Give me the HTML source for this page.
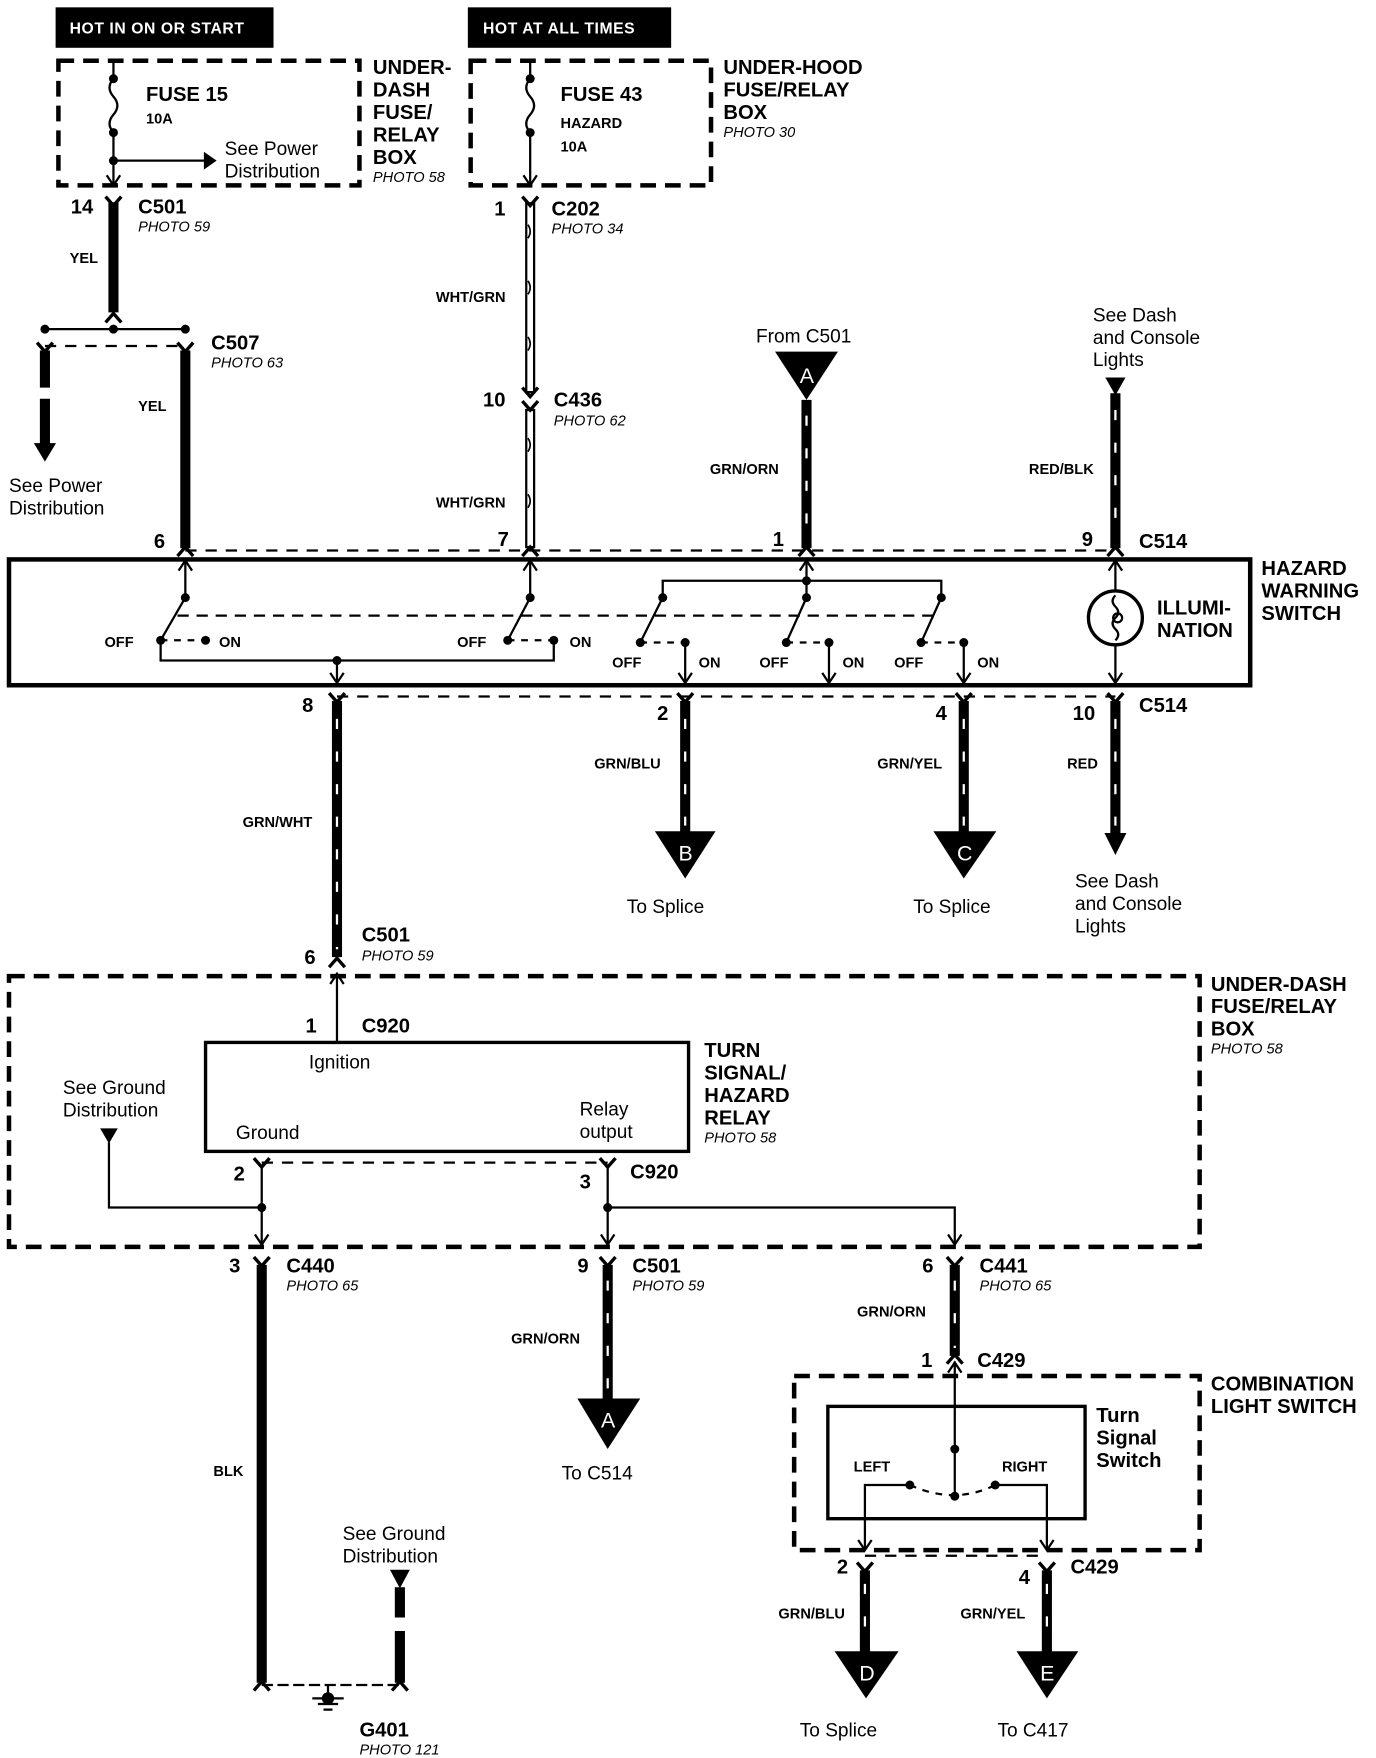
<!DOCTYPE html>
<html><head><meta charset="utf-8"><style>
html,body{margin:0;padding:0;background:#fff}
svg{display:block}
text{font-family:"Liberation Sans",Arial,sans-serif;fill:#000}
.b{font-weight:bold}
.L{font-size:18px;font-weight:bold}
.s{font-size:13px;font-weight:bold}
.p{font-size:13px;font-style:italic}
.n{font-size:17px}
.w{font-size:13px;font-weight:bold}
</style></head><body>
<svg width="1376" height="1758" viewBox="0 0 1225 1565" xmlns="http://www.w3.org/2000/svg">
<defs>
<path id="fd" d="M-7,-7 L0,1 L7,-7" fill="none" stroke="#000" stroke-width="3"/>
<path id="fu" d="M-7,7 L0,-1 L7,7" fill="none" stroke="#000" stroke-width="3"/>
<path id="ad" d="M-6,-9 L0,0 L6,-9" fill="none" stroke="#000" stroke-width="2"/>
<path id="au" d="M-6,9 L0,0 L6,9" fill="none" stroke="#000" stroke-width="2"/>
</defs>
<g fill="none" stroke="#000">
<rect x="50" y="7" width="193" height="35" fill="#000"/>
<rect x="417" y="7" width="180" height="35" fill="#000"/>
<rect x="52" y="54" width="268" height="111" stroke-width="4" stroke-dasharray="14 8"/>
<rect x="419" y="54" width="214" height="111" stroke-width="4" stroke-dasharray="14 8"/>
<path d="M101,54 V70 M101,118 V165 M101,143 H182" stroke-width="2"/>
<path d="M101,70 q-7,8 0,16 q7,8 0,16 q-7,8 0,16" stroke-width="2"/>
<path d="M182,136 L192,143 L182,150Z" fill="#000" stroke-width="1"/>
<path d="M472,54 V70 M472,118 V165" stroke-width="2"/>
<path d="M472,70 q-7,8 0,16 q7,8 0,16 q-7,8 0,16" stroke-width="2"/>
<path d="M101,180 V278" stroke-width="9"/>
<path d="M40,293 H165" stroke-width="2"/>
<path d="M40,308 H165" stroke-width="2" stroke-dasharray="10 8"/>
<path d="M40,312 V345 M40,355 V397" stroke-width="9"/>
<path d="M31,395 L40,410 L49,395Z" fill="#000" stroke-width="1"/>
<path d="M165,312 V488" stroke-width="9"/>
<path d="M472,180 V350 M472,364 V488" stroke-width="9"/>
<path d="M472,182 V348 M472,366 V486" stroke="#fff" stroke-width="5"/>
<path d="M470,200 q4,6 0,12 M470,250 q4,6 0,12 M470,300 q4,6 0,12 M470,390 q4,6 0,12 M470,440 q4,6 0,12" stroke-width="1.5"/>
<path d="M718,356 V488" stroke-width="9"/>
<path d="M993,350 V488" stroke-width="9"/>
<path d="M165,490 H993" stroke-width="2" stroke-dasharray="10 8"/>
<rect x="8" y="498" width="1105" height="112" stroke-width="4"/>
<path d="M165,498 V532 L143,570 M143,570 V588 H493 V570 M300,588 V608" stroke-width="2"/>
<path d="M472,498 V532 L452,570" stroke-width="2"/>
<path d="M143,570 H183 M452,570 H493" stroke-width="2" stroke-dasharray="6 6"/>
<path d="M158,548 H838" stroke-width="2" stroke-dasharray="10 7"/>
<path d="M590,530 V517 H838 V530 M718,498 V532" stroke-width="2"/>
<path d="M590,532 L570,572 M718,532 L700,572 M838,532 L820,572" stroke-width="2"/>
<path d="M570,572 H610 M700,572 H738 M820,572 H858" stroke-width="2" stroke-dasharray="6 6"/>
<path d="M610,572 V608 M738,572 V608 M858,572 V608" stroke-width="2"/>
<circle cx="993" cy="550" r="24" stroke-width="3"/>
<path d="M993,498 V527 M993,573 V608 M993,530 q-5,5 0,10 q5,5 0,10 q-5,5 0,10 q5,5 0,10" stroke-width="2"/>
<circle cx="995" cy="550" r="4" stroke-width="2"/>
<path d="M300,620 H993" stroke-width="2" stroke-dasharray="10 8"/>
<path d="M300,624 V852" stroke-width="9"/>
<path d="M610,624 V742 M858,624 V742 M993,624 V745" stroke-width="9"/>
<path d="M984,742 L993,760 L1002,742Z" fill="#000" stroke-width="1"/>
<rect x="8" y="869" width="1060" height="241" stroke-width="4" stroke-dasharray="14 8"/>
<path d="M300,866 V928" stroke-width="2"/>
<rect x="183" y="928" width="430" height="97" stroke-width="3"/>
<path d="M97,1017 V1075 H233 M233,1037 V1108 M541,1037 V1108 M541,1075 H850 V1108" stroke-width="2"/>
<path d="M233,1035 H541" stroke-width="2" stroke-dasharray="10 8"/>
<path d="M90,1005 H104 L97,1017Z" fill="#000" stroke-width="1"/>
<path d="M233,1126 V1498" stroke-width="9"/>
<path d="M541,1126 V1246" stroke-width="9"/>
<path d="M850,1126 V1207" stroke-width="9"/>
<rect x="707" y="1225" width="361" height="155" stroke-width="4" stroke-dasharray="14 8"/>
<rect x="737" y="1252" width="229" height="100" stroke-width="3"/>
<path d="M850,1212 V1332 M770,1380 V1322 H810 M932,1380 V1322 H886" stroke-width="2"/>
<path d="M810,1322 Q850,1340 886,1322" stroke-width="2" stroke-dasharray="6 6"/>
<path d="M770,1385 H932" stroke-width="2" stroke-dasharray="10 8"/>
<path d="M770,1398 V1472 M932,1398 V1472" stroke-width="9"/>
<path d="M356,1413 V1440 M356,1452 V1498" stroke-width="9"/>
<path d="M348,1398 H364 L356,1413Z" fill="#000" stroke-width="1"/>
<path d="M233,1500 H356" stroke-width="2" stroke-dasharray="10 4"/>
<path d="M292,1500 V1512 M278,1512 H306 M283,1517 H301 M288,1522 H296" stroke-width="2"/>
<circle cx="292" cy="1512" r="5" fill="#000"/>
</g>
<g stroke="#fff" stroke-width="2">
<path d="M718,370 V480 M993,365 V480 M300,640 V845 M610,640 V735 M858,640 V735 M993,640 V735 M541,1140 V1240 M850,1140 V1200 M770,1410 V1465 M932,1410 V1465" stroke-dasharray="9 20"/>
</g>
<g fill="#000">
<circle cx="101" cy="70" r="4"/><circle cx="101" cy="118" r="4"/><circle cx="101" cy="143" r="4"/>
<circle cx="472" cy="70" r="4"/><circle cx="472" cy="118" r="4"/>
<circle cx="40" cy="293" r="4"/><circle cx="101" cy="293" r="4"/><circle cx="165" cy="293" r="4"/>
<circle cx="165" cy="532" r="4"/><circle cx="143" cy="570" r="4"/><circle cx="183" cy="570" r="4"/><circle cx="300" cy="588" r="4"/>
<circle cx="472" cy="532" r="4"/><circle cx="452" cy="570" r="4"/><circle cx="493" cy="570" r="4"/>
<circle cx="590" cy="532" r="4"/><circle cx="718" cy="532" r="4"/><circle cx="838" cy="532" r="4"/><circle cx="718" cy="517" r="4"/>
<circle cx="570" cy="572" r="4"/><circle cx="610" cy="572" r="4"/><circle cx="700" cy="572" r="4"/><circle cx="738" cy="572" r="4"/><circle cx="820" cy="572" r="4"/><circle cx="858" cy="572" r="4"/>
<circle cx="233" cy="1075" r="4"/><circle cx="541" cy="1075" r="4"/>
<circle cx="850" cy="1290" r="4"/><circle cx="850" cy="1332" r="4"/><circle cx="810" cy="1322" r="4"/><circle cx="886" cy="1322" r="4"/>
<path d="M690,313 H746 L718,356Z"/>
<path d="M984,336 H1002 L993,352Z"/>
<path d="M583,740 H637 L610,782Z"/>
<path d="M831,740 H887 L858,782Z"/>
<path d="M514,1245 H570 L541,1290Z"/>
<path d="M743,1470 H800 L771,1512Z"/>
<path d="M905,1470 H960 L932,1512Z"/>
</g>
<use href="#fd" x="101" y="182"/><use href="#fu" x="101" y="280"/>
<use href="#fd" x="472" y="182"/><use href="#fd" x="472" y="352"/><use href="#fd" x="472" y="364"/>
<use href="#fd" x="40" y="312"/><use href="#fd" x="165" y="312"/>
<use href="#fu" x="165" y="488"/><use href="#fu" x="472" y="488"/><use href="#fu" x="718" y="488"/><use href="#fu" x="993" y="488"/>
<use href="#fd" x="300" y="624"/><use href="#fd" x="610" y="624"/><use href="#fd" x="858" y="624"/><use href="#fd" x="993" y="624"/>
<use href="#fu" x="300" y="854"/>
<use href="#fd" x="233" y="1038"/><use href="#fd" x="541" y="1038"/>
<use href="#fd" x="233" y="1126"/><use href="#fd" x="541" y="1126"/><use href="#fd" x="850" y="1126"/>
<use href="#fu" x="850" y="1207"/>
<use href="#fd" x="770" y="1398"/><use href="#fd" x="932" y="1398"/>
<use href="#fu" x="233" y="1498"/><use href="#fu" x="356" y="1498"/>
<use href="#ad" x="101" y="165"/><use href="#ad" x="472" y="165"/>
<use href="#au" x="165" y="499"/><use href="#au" x="472" y="499"/><use href="#au" x="718" y="499"/><use href="#au" x="993" y="499"/>
<use href="#ad" x="300" y="608"/><use href="#ad" x="610" y="608"/><use href="#ad" x="738" y="608"/><use href="#ad" x="858" y="608"/><use href="#ad" x="993" y="608"/>
<use href="#au" x="300" y="867"/><use href="#ad" x="233" y="1108"/><use href="#ad" x="541" y="1108"/><use href="#ad" x="850" y="1108"/>
<use href="#au" x="850" y="1213"/><use href="#ad" x="770" y="1380"/><use href="#ad" x="932" y="1380"/>
<text x="62" y="30" style="fill:#fff;font-size:14px;font-weight:bold;letter-spacing:0.5px">HOT IN ON OR START</text>
<text x="430" y="30" style="fill:#fff;font-size:14px;font-weight:bold;letter-spacing:0.5px">HOT AT ALL TIMES</text>
<text x="130" y="90" class="L">FUSE 15</text><text x="130" y="110" class="s">10A</text>
<text x="200" y="138" class="n">See Power</text><text x="200" y="158" class="n">Distribution</text>
<text x="332" y="66" class="L">UNDER-</text><text x="332" y="86" class="L">DASH</text><text x="332" y="106" class="L">FUSE/</text><text x="332" y="126" class="L">RELAY</text><text x="332" y="146" class="L">BOX</text><text x="332" y="162" class="p">PHOTO 58</text>
<text x="499" y="90" class="L">FUSE 43</text><text x="499" y="114" class="s">HAZARD</text><text x="499" y="135" class="s">10A</text>
<text x="644" y="66" class="L">UNDER-HOOD</text><text x="644" y="86" class="L">FUSE/RELAY</text><text x="644" y="106" class="L">BOX</text><text x="644" y="122" class="p">PHOTO 30</text>
<text x="63" y="190" class="L">14</text><text x="123" y="190" class="L">C501</text><text x="123" y="206" class="p">PHOTO 59</text>
<text x="62" y="234" class="w">YEL</text>
<text x="440" y="192" class="L">1</text><text x="491" y="192" class="L">C202</text><text x="491" y="208" class="p">PHOTO 34</text>
<text x="388" y="269" class="w">WHT/GRN</text>
<text x="188" y="311" class="L">C507</text><text x="188" y="327" class="p">PHOTO 63</text>
<text x="123" y="366" class="w">YEL</text>
<text x="8" y="438" class="n">See Power</text><text x="8" y="458" class="n">Distribution</text>
<text x="430" y="362" class="L">10</text><text x="493" y="362" class="L">C436</text><text x="493" y="379" class="p">PHOTO 62</text>
<text x="388" y="452" class="w">WHT/GRN</text>
<text x="673" y="305" class="n">From C501</text>
<text x="712" y="341" style="fill:#fff;font-size:19px">A</text>
<text x="632" y="422" class="w">GRN/ORN</text>
<text x="973" y="286" class="n">See Dash</text><text x="973" y="306" class="n">and Console</text><text x="973" y="326" class="n">Lights</text>
<text x="916" y="422" class="w">RED/BLK</text>
<text x="137" y="488" class="L">6</text><text x="443" y="486" class="L">7</text><text x="688" y="486" class="L">1</text><text x="963" y="486" class="L">9</text><text x="1014" y="488" class="L">C514</text>
<text x="1123" y="512" class="L">HAZARD</text><text x="1123" y="532" class="L">WARNING</text><text x="1123" y="552" class="L">SWITCH</text>
<text x="1030" y="547" class="L">ILLUMI-</text><text x="1030" y="567" class="L">NATION</text>
<text x="93" y="576" class="w">OFF</text><text x="195" y="576" class="w">ON</text>
<text x="407" y="576" class="w">OFF</text><text x="507" y="576" class="w">ON</text>
<text x="545" y="594" class="w">OFF</text><text x="622" y="594" class="w">ON</text>
<text x="676" y="594" class="w">OFF</text><text x="750" y="594" class="w">ON</text>
<text x="796" y="594" class="w">OFF</text><text x="870" y="594" class="w">ON</text>
<text x="269" y="634" class="L">8</text><text x="585" y="641" class="L">2</text><text x="833" y="641" class="L">4</text><text x="955" y="641" class="L">10</text><text x="1014" y="634" class="L">C514</text>
<text x="529" y="684" class="w">GRN/BLU</text><text x="781" y="684" class="w">GRN/YEL</text><text x="950" y="684" class="w">RED</text>
<text x="604" y="766" style="fill:#fff;font-size:19px">B</text><text x="852" y="766" style="fill:#fff;font-size:19px">C</text>
<text x="558" y="813" class="n">To Splice</text><text x="813" y="813" class="n">To Splice</text>
<text x="957" y="790" class="n">See Dash</text><text x="957" y="810" class="n">and Console</text><text x="957" y="830" class="n">Lights</text>
<text x="216" y="736" class="w">GRN/WHT</text>
<text x="322" y="838" class="L">C501</text><text x="322" y="855" class="p">PHOTO 59</text><text x="271" y="858" class="L">6</text>
<text x="1078" y="882" class="L">UNDER-DASH</text><text x="1078" y="902" class="L">FUSE/RELAY</text><text x="1078" y="922" class="L">BOX</text><text x="1078" y="938" class="p">PHOTO 58</text>
<text x="272" y="919" class="L">1</text><text x="322" y="919" class="L">C920</text>
<text x="275" y="951" class="n">Ignition</text><text x="210" y="1014" class="n">Ground</text>
<text x="516" y="993" class="n">Relay</text><text x="516" y="1013" class="n">output</text>
<text x="627" y="941" class="L">TURN</text><text x="627" y="961" class="L">SIGNAL/</text><text x="627" y="981" class="L">HAZARD</text><text x="627" y="1001" class="L">RELAY</text><text x="627" y="1017" class="p">PHOTO 58</text>
<text x="56" y="974" class="n">See Ground</text><text x="56" y="994" class="n">Distribution</text>
<text x="208" y="1051" class="L">2</text><text x="516" y="1058" class="L">3</text><text x="561" y="1049" class="L">C920</text>
<text x="204" y="1133" class="L">3</text><text x="255" y="1133" class="L">C440</text><text x="255" y="1149" class="p">PHOTO 65</text>
<text x="514" y="1133" class="L">9</text><text x="563" y="1133" class="L">C501</text><text x="563" y="1149" class="p">PHOTO 59</text>
<text x="821" y="1133" class="L">6</text><text x="872" y="1133" class="L">C441</text><text x="872" y="1149" class="p">PHOTO 65</text>
<text x="190" y="1314" class="w">BLK</text>
<text x="455" y="1196" class="w">GRN/ORN</text><text x="763" y="1172" class="w">GRN/ORN</text>
<text x="535" y="1271" style="fill:#fff;font-size:19px">A</text>
<text x="500" y="1317" class="n">To C514</text>
<text x="820" y="1217" class="L">1</text><text x="870" y="1217" class="L">C429</text>
<text x="1078" y="1238" class="L">COMBINATION</text><text x="1078" y="1258" class="L">LIGHT SWITCH</text>
<text x="976" y="1266" class="L">Turn</text><text x="976" y="1286" class="L">Signal</text><text x="976" y="1306" class="L">Switch</text>
<text x="760" y="1310" class="w">LEFT</text><text x="892" y="1310" class="w">RIGHT</text>
<text x="745" y="1401" class="L">2</text><text x="907" y="1410" class="L">4</text><text x="953" y="1401" class="L">C429</text>
<text x="693" y="1441" class="w">GRN/BLU</text><text x="855" y="1441" class="w">GRN/YEL</text>
<text x="765" y="1496" style="fill:#fff;font-size:19px">D</text><text x="926" y="1496" style="fill:#fff;font-size:19px">E</text>
<text x="712" y="1546" class="n">To Splice</text><text x="888" y="1546" class="n">To C417</text>
<text x="305" y="1371" class="n">See Ground</text><text x="305" y="1391" class="n">Distribution</text>
<text x="320" y="1546" class="L">G401</text><text x="320" y="1562" class="p">PHOTO 121</text>
</svg>
</body></html>
